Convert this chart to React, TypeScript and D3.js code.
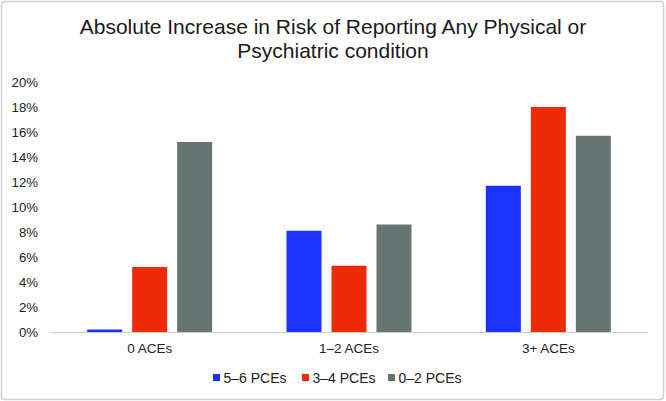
import React from "react";
import * as d3 from "d3";

const categories = ["0 ACEs", "1–2 ACEs", "3+ ACEs"];
const seriesNames = ["5–6 PCEs", "3–4 PCEs", "0–2 PCEs"];
const pce56 = [0.2, 8.1, 11.7];
const pce34 = [5.2, 5.3, 18.0];
const pce02 = [15.2, 8.6, 15.7];
const yTicks = [0, 2, 4, 6, 8, 10, 12, 14, 16, 18, 20];
const colors = ["#1932ff", "#ee2b06", "#647572"];

const W = 666;
const H = 401;

export default function App() {
  const series = [pce56, pce34, pce02];
  const x0 = d3.scaleBand<string>().domain(categories).range([50, 648]).paddingInner(0).paddingOuter(0);
  const y = d3.scaleLinear().domain([0, 20]).range([332, 82]);
  const barW = 35;
  const gap = 10;
  const groupW = barW * 3 + gap * 2;
  const font = "'Liberation Sans', Arial, Helvetica, sans-serif";

  const legendX = [213, 302, 388];

  return (
    <svg width={W} height={H} style={{ position: "absolute", left: 0, top: 0 }} fontFamily={font}>
      <rect x={0} y={0} width={W} height={H} fill="#ffffff" />
      <rect x={1.5} y={1.5} width={W - 4} height={H - 3} rx={3} fill="none" stroke="#ccd3d3" strokeWidth={1.5} />
      <text x={333} y={34} textAnchor="middle" fontSize={21} fill="#1a1a1a">
        Absolute Increase in Risk of Reporting Any Physical or
      </text>
      <text x={333} y={58} textAnchor="middle" fontSize={21} fill="#1a1a1a">
        Psychiatric condition
      </text>
      {yTicks.map((t) => (
        <text key={t} x={38} y={y(t) + 4.7} textAnchor="end" fontSize={13.2} fill="#222">
          {t}%
        </text>
      ))}
      {categories.map((c, ci) => {
        const cx = (x0(c) as number) + x0.bandwidth() / 2;
        const start = cx - groupW / 2;
        return (
          <g key={c}>
            {series.map((s, si) => (
              <rect
                key={si}
                x={start + si * (barW + gap)}
                y={y(s[ci])}
                width={barW}
                height={y(0) - y(s[ci])}
                fill={colors[si]}
              />
            ))}
            <text x={cx} y={353} textAnchor="middle" fontSize={13.5} fill="#222">
              {c}
            </text>
          </g>
        );
      })}
      <line x1={50} x2={648} y1={332.5} y2={332.5} stroke="#c8cfcf" strokeWidth={1.2} />
      {seriesNames.map((n, i) => (
        <g key={n}>
          <rect x={legendX[i]} y={374} width={7} height={7} fill={colors[i]} />
          <text x={legendX[i] + 10.5} y={382.5} fontSize={14} fill="#222">
            {n}
          </text>
        </g>
      ))}
    </svg>
  );
}
